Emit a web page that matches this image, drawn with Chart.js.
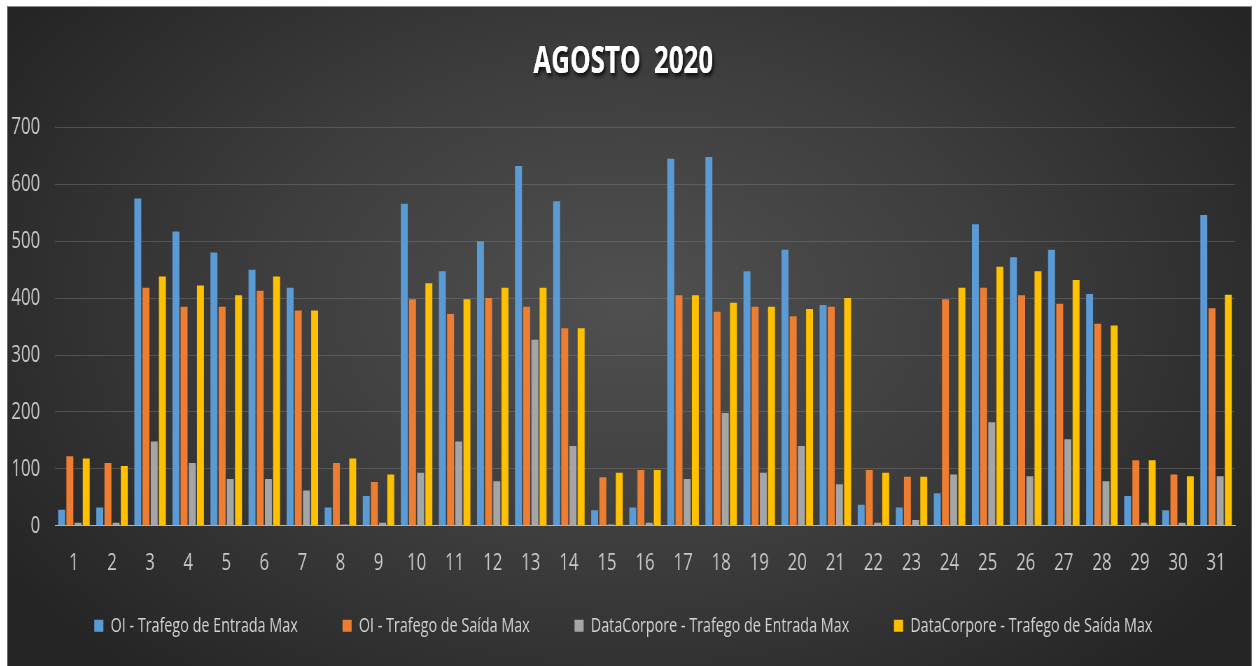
<!DOCTYPE html>
<html>
<head>
<meta charset="utf-8">
<script src="https://cdn.jsdelivr.net/npm/chart.js@4.4.1/dist/chart.umd.min.js"></script>
<style>
    html, body { margin: 0; padding: 0; background: #ffffff; overflow: hidden; }
    #frame {
        position: absolute;
        left: 7px; top: 6px;
        width: 1245px; height: 660px;
        border-top: 1px solid #8a8a8a;
        border-left: 1px solid #6a6a6a;
        border-right: 1px solid #6a6a6a;
        box-sizing: border-box;
        overflow: hidden;
        background: radial-gradient(ellipse 60% 75% at 50% 45%, #505050 0%, #3d3d3d 50%, #252525 100%);
    }
    /* the source picture is squeezed sideways, so the canvas is drawn wide and compressed */
    #squeeze {
        width: 1776px; height: 659px;
        transform: scaleX(0.7);
        transform-origin: 0 0;
    }
</style>
</head>
<body>
<div id="frame"><div id="squeeze"><canvas id="chart" width="1776" height="659" style="width:1776px;height:659px"></canvas></div></div>
<script>
const days = ['1','2','3','4','5','6','7','8','9','10','11','12','13','14','15','16',
    '17','18','19','20','21','22','23','24','25','26','27','28','29','30','31'];

const oiEntrada = [28, 32, 575, 517, 480, 450, 418, 32, 52, 566, 447, 500, 632, 570, 27, 32,
    645, 648, 447, 485, 388, 37, 32, 57, 530, 472, 485, 407, 52, 27, 546];
const oiSaida = [122, 110, 418, 385, 385, 413, 378, 110, 77, 398, 372, 400, 385, 347, 85, 98,
    405, 376, 385, 368, 385, 98, 86, 398, 418, 405, 390, 355, 115, 90, 382];
const dcEntrada = [5, 5, 148, 110, 82, 82, 62, 2, 5, 93, 148, 78, 327, 140, 2, 5,
    82, 198, 93, 140, 73, 5, 10, 90, 182, 87, 152, 78, 5, 5, 87];
const dcSaida = [118, 105, 438, 422, 405, 438, 378, 118, 90, 426, 398, 418, 418, 347, 93, 98,
    405, 392, 385, 381, 400, 93, 86, 418, 455, 447, 432, 352, 115, 87, 406];

const yTicks = [0, 100, 200, 300, 400, 500, 600, 700];

const FONT = "'Open Sans', 'Noto Sans', sans-serif";

function makeSet(label, data, color) {
    return {
        label: label,
        data: data,
        backgroundColor: color,
        borderWidth: 0,
        categoryPercentage: 0.86,
        barPercentage: 0.85
    };
}

// soft shadow under the title only
const titleShadow = {
    id: 'titleShadow',
    beforeDraw(chart) {
        const t = chart.titleBlock;
        if (!t) return;
        const c = chart.ctx;
        c.save();
        c.shadowColor = 'rgba(0,0,0,0.85)';
        c.shadowOffsetX = 2;
        c.shadowOffsetY = 3;
        c.shadowBlur = 4;
        t.draw();
        c.restore();
    }
};

const ctx = document.getElementById('chart').getContext('2d');
new Chart(ctx, {
    type: 'bar',
    data: {
        labels: days,
        datasets: [
            makeSet('OI - Trafego de Entrada Max', oiEntrada, '#5b9bd5'),
            makeSet('OI - Trafego de Saída Max', oiSaida, '#ed7d31'),
            makeSet('DataCorpore - Trafego de Entrada Max', dcEntrada, '#a5a5a5'),
            makeSet('DataCorpore - Trafego de Saída Max', dcSaida, '#ffc000')
        ]
    },
    options: {
        responsive: false,
        animation: false,
        devicePixelRatio: 1,
        layout: { padding: { left: 5, right: 23, top: 33, bottom: 20 } },
        scales: {
            x: {
                grid: { display: false },
                border: { display: true, color: '#b5b5b5', width: 1 },
                ticks: { color: '#c8c8c8', font: { family: FONT, size: 24 }, padding: 15 }
            },
            y: {
                min: 0,
                max: 700,
                afterBuildTicks: axis => { axis.ticks = yTicks.map(v => ({ value: v })); },
                afterFit: axis => { axis.width = 62; },
                grid: { color: 'rgba(140,140,140,0.35)', lineWidth: 1, drawTicks: false },
                border: { display: false },
                ticks: { color: '#c8c8c8', font: { family: FONT, size: 24 }, padding: 21 }
            }
        },
        plugins: {
            title: {
                display: true,
                text: 'AGOSTO  2020',
                color: '#ffffff',
                font: { family: FONT, size: 37, weight: 'bold' },
                padding: { top: 0, bottom: 43 }
            },
            legend: {
                position: 'bottom',
                labels: {
                    color: '#d4d4d4',
                    font: { family: FONT, size: 20.5 },
                    boxWidth: 13,
                    boxHeight: 12,
                    padding: 23,
                    // trailing en-spaces widen the gap between items without adding height
                    generateLabels: chart => {
                        const items = Chart.defaults.plugins.legend.labels.generateLabels(chart);
                        return items.map((item, i) => Object.assign(item, {
                            text: i < items.length - 1 ? item.text + '\u2002\u2002\u2002\u2002' : item.text
                        }));
                    }
                }
            },
            tooltip: { enabled: false }
        }
    },
    plugins: [titleShadow]
});
</script>
</body>
</html>
